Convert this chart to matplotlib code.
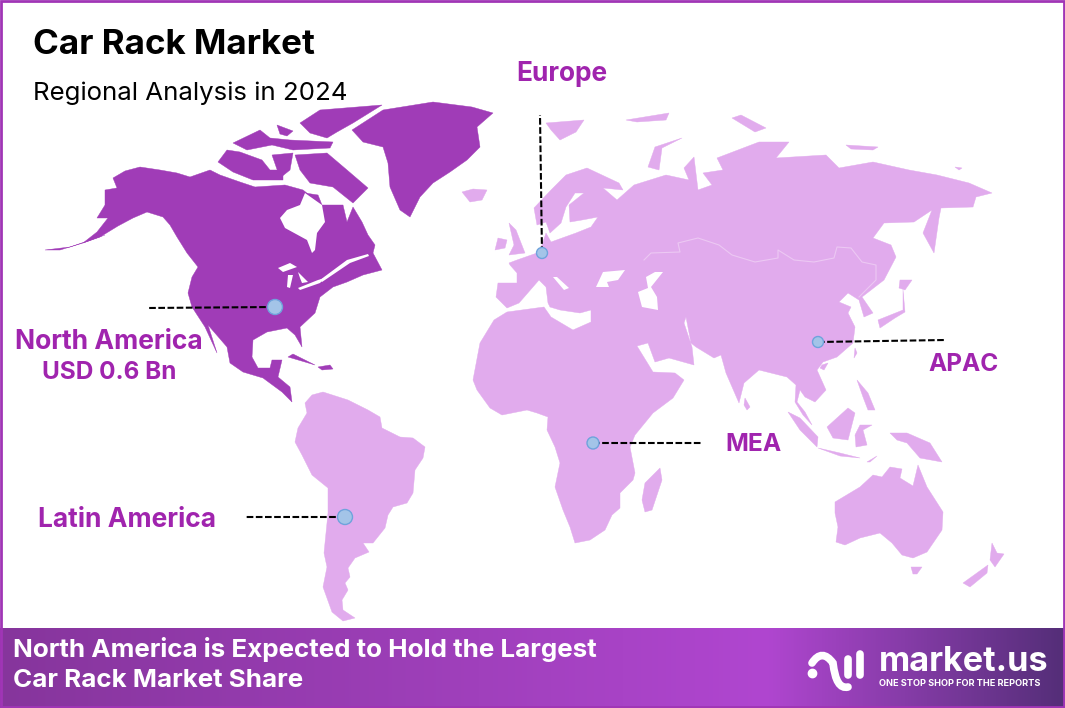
#!/usr/bin/env python3
"""Car Rack Market - regional analysis world map."""

import matplotlib
matplotlib.use('Agg')
import matplotlib.pyplot as plt
import numpy as np
from matplotlib.patches import Ellipse, PathPatch, Rectangle
from matplotlib.path import Path

W, H = 1065, 708
PURPLE = '#a03cb7'
LIGHT = '#e1abed'
LABEL = '#a024ae'
FONT = 'Inter'

# outlines of the land, picture coordinates
north_america = [
    (113, 178), (125, 171), (140, 167), (160, 170), (177, 173), (190, 177), (210, 170), (220, 175),
    (240, 182), (255, 187), (285, 185), (303, 190), (322, 205), (343, 205), (347, 222), (353, 207),
    (362, 222), (368, 235), (375, 245), (373, 253), (382, 270), (363, 275), (347, 282), (333, 287),
    (320, 297), (315, 313), (300, 327), (302, 347), (295, 335), (287, 328), (267, 332), (253, 340),
    (252, 357), (258, 368), (270, 368), (272, 360), (282, 360), (278, 377), (290, 387), (292, 402),
    (282, 392), (263, 378), (243, 372), (230, 363), (227, 347), (208, 325), (217, 353), (205, 327),
    (192, 307), (188, 293), (192, 277), (198, 267), (187, 253), (177, 237), (170, 225), (163, 217),
    (147, 212), (133, 218), (118, 226), (100, 237), (83, 243), (97, 232), (108, 218), (97, 218),
    (105, 205), (105, 190), (117, 188),
]
greenland = [
    (352, 130), (383, 110), (433, 102), (472, 107), (493, 113), (477, 127), (480, 147), (467, 160),
    (450, 172), (433, 183), (420, 197), (410, 217), (400, 210), (390, 187), (388, 163), (383, 147),
    (363, 142),
]
arctic_islands = [
    [(295, 155), (327, 153), (347, 170), (368, 188), (353, 203), (333, 187), (310, 183), (300, 170)],
    [(218, 162), (227, 150), (240, 152), (262, 160), (270, 170), (283, 170), (283, 180), (253, 180),
     (233, 172)],
    [(300, 123), (320, 110), (382, 105), (353, 123), (337, 132), (327, 138), (310, 133)],
    [(233, 143), (260, 130), (270, 138), (290, 140), (333, 142), (330, 148), (293, 150), (272, 145),
     (247, 150)],
    [(277, 125), (293, 131), (287, 136), (280, 134)],
    [(272, 155), (293, 153), (290, 170), (280, 178)],
    [(305, 193), (318, 195), (322, 205), (310, 203)],
    [(105, 235), (83, 243), (60, 250), (45, 250), (70, 247)],
    [(288, 357), (293, 354), (315, 365), (305, 362)],
    [(318, 367), (330, 365), (333, 369), (322, 370)],
]
na_water = [
    [(280, 218), (285, 228), (307, 240), (312, 253), (315, 250), (317, 233), (325, 222), (322, 205),
     (305, 193), (300, 205), (287, 210)],
    [(278, 268), (290, 263), (297, 267), (283, 272)],
    [(288, 275), (293, 275), (290, 288), (287, 287)],
    [(298, 272), (308, 282), (302, 283), (300, 278)],
    [(298, 288), (318, 280), (325, 278), (320, 283), (300, 290)],
    [(320, 280), (347, 260), (368, 254), (369, 256), (350, 263), (322, 282)],
]
eurasia_africa = [
    (509, 263), (517, 260), (537, 253), (542, 245), (546, 233), (551, 242), (576, 233), (591, 227),
    (598, 217), (582, 220), (570, 222), (569, 205), (584, 193), (575, 193), (566, 207), (561, 223),
    (550, 233), (546, 222), (537, 225), (534, 208), (551, 190), (566, 175), (587, 168), (619, 183),
    (623, 190), (603, 188), (617, 200), (634, 185), (666, 175), (689, 180), (684, 168), (694, 157),
    (698, 190), (712, 185), (703, 173), (723, 170), (717, 158), (759, 142), (789, 142), (776, 158),
    (826, 155), (839, 168), (873, 162), (909, 170), (937, 175), (969, 183), (992, 193), (976, 197),
    (973, 207), (941, 208), (939, 218), (934, 253), (923, 233), (932, 210), (914, 222), (884, 223),
    (873, 238), (891, 245), (896, 257), (884, 280), (862, 297), (873, 313), (864, 317), (859, 300),
    (848, 293), (839, 302), (851, 307), (848, 313), (855, 327), (853, 343), (837, 357), (823, 362),
    (817, 370), (826, 390), (815, 402), (805, 397), (800, 390), (797, 402), (805, 412), (812, 425),
    (803, 415), (795, 402), (796, 385), (787, 377), (759, 370), (744, 383), (739, 403), (726, 373),
    (721, 355), (714, 358), (696, 347), (691, 343), (686, 317), (684, 323), (692, 347), (694, 365),
    (669, 358), (655, 362), (648, 343), (637, 346), (653, 372), (675, 373), (684, 380), (673, 398),
    (653, 413), (635, 435), (630, 447), (635, 473), (633, 480), (620, 493), (620, 508), (612, 515),
    (605, 530), (590, 540), (575, 543), (570, 527), (563, 510), (555, 487), (560, 463), (555, 447),
    (547, 430), (548, 417), (537, 413), (527, 410), (502, 415), (490, 408), (477, 390), (473, 380),
    (480, 343), (494, 320), (507, 312), (544, 307), (551, 317), (573, 330), (591, 322), (591, 310),
    (580, 313), (560, 310), (550, 307), (548, 303), (546, 287), (539, 280), (526, 295), (519, 303),
    (507, 308), (496, 297), (498, 283), (517, 283), (517, 273), (510, 265),
]
inland_seas = [
    [(596, 287), (603, 272), (625, 270), (618, 280), (607, 282), (609, 287)],
    [(646, 277), (655, 272), (663, 272), (651, 287), (657, 297), (658, 310), (642, 307), (638, 292),
     (648, 288)],
    [(553, 277), (557, 277), (569, 288), (564, 290)],
]
south_america = [
    (323, 392), (348, 400), (368, 410), (380, 417), (382, 428), (400, 437), (413, 438), (425, 447),
    (423, 458), (415, 470), (413, 493), (407, 503), (393, 507), (388, 515), (385, 528), (373, 543),
    (363, 543), (369, 552), (355, 558), (348, 568), (350, 577), (345, 583), (348, 590), (342, 600),
    (343, 610), (355, 618), (343, 621), (332, 612), (323, 587), (327, 567), (324, 553), (328, 513),
    (328, 488), (312, 475), (302, 455), (295, 442), (298, 428), (307, 413), (305, 403), (312, 395),
]
australia = [
    (835, 502), (860, 487), (873, 475), (882, 477), (890, 467), (902, 469), (900, 478), (913, 486),
    (918, 465), (927, 487), (943, 512), (942, 530), (927, 552), (913, 558), (902, 555), (892, 543),
    (880, 533), (860, 538), (845, 545), (836, 542), (838, 527), (835, 513),
]
small_islands = [
    [(509, 223), (516, 230), (525, 253), (509, 255), (514, 245)],
    [(495, 250), (498, 238), (507, 240), (505, 248)],
    [(462, 192), (473, 189), (487, 190), (482, 200), (470, 202)],
    [(546, 123), (584, 120), (576, 132), (560, 140), (551, 130)],
    [(648, 167), (655, 147), (682, 138), (662, 148), (659, 170)],
    [(626, 120), (669, 113), (666, 120), (637, 122)],
    [(732, 118), (741, 115), (766, 128), (755, 132)],
    [(846, 145), (878, 147), (873, 150), (851, 149)],
    [(955, 167), (962, 168), (959, 170)],
    [(903, 290), (903, 310), (878, 320), (880, 328), (895, 318), (905, 312)],
    [(900, 280), (912, 280), (905, 290), (899, 288)],
    [(855, 348), (857, 353), (854, 358)],
    [(822, 365), (828, 363), (824, 370), (820, 368)],
    [(745, 398), (750, 407), (747, 410), (744, 405)],
    [(857, 380), (868, 393), (875, 410), (868, 410), (863, 397)],
    [(788, 412), (800, 418), (818, 437), (817, 447), (800, 430)],
    [(818, 448), (840, 453), (860, 458), (840, 456)],
    [(827, 427), (848, 408), (855, 413), (848, 440), (833, 438)],
    [(855, 435), (860, 425), (872, 425), (863, 430), (867, 445), (856, 447)],
    [(890, 433), (907, 433), (930, 443), (942, 462), (920, 458), (907, 443), (897, 440)],
    [(867, 462), (877, 456), (870, 462)],
    [(911, 567), (922, 567), (917, 574), (913, 574)],
    [(992, 543), (997, 553), (1004, 554), (995, 567), (990, 560)],
    [(963, 583), (988, 565), (987, 573), (970, 587)],
    [(660, 468), (662, 480), (652, 510), (645, 512), (642, 500), (645, 483)],
]
russia_border = [
    (644, 260), (651, 253), (680, 252), (678, 243), (698, 238), (719, 245), (732, 255), (755, 262),
    (778, 258), (778, 250), (794, 260), (814, 262), (834, 258), (837, 247), (851, 248), (862, 262),
    (876, 265), (876, 280), (859, 297),
]

# callouts: dot, radius, far end of the dashed line
dots = [(275, 307), (542, 253), (818, 342), (593, 443), (345, 517)]
dot_radius = [7.5, 5.5, 5.5, 6, 7.5]
line_ends = [(148, 308), (540, 115), (945, 340), (703, 443), (246, 517)]

title = 'Car Rack Market'
subtitle = 'Regional Analysis in 2024'
footer = ['North America is Expected to Hold the Largest', 'Car Rack Market Share']

fig = plt.figure(figsize=(W / 100, H / 100), dpi=100)
ax = fig.add_axes([0, 0, 1, 1])
ax.set_xlim(0, W)
ax.set_ylim(H, 0)
ax.axis('off')

# land
for shape in [north_america, greenland] + arctic_islands:
    ax.fill(*zip(*shape), color=PURPLE, lw=0.3)
for shape in [eurasia_africa, south_america, australia] + small_islands:
    ax.fill(*zip(*shape), color=LIGHT, lw=0.3)
for shape in na_water + inland_seas:
    ax.fill(*zip(*shape), color='white', lw=0)
ax.plot(*zip(*russia_border), color='#ecc8f3', lw=0.8)

# callouts
for dot, r, end in zip(dots, dot_radius, line_ends):
    ax.plot([dot[0], end[0]], [dot[1], end[1]], color='black', lw=1.5, ls=(0, (3.2, 1.2)), zorder=3)
    ax.add_patch(Ellipse(dot, 2 * r, 2 * r, fc='#a3c4e8', ec='#6fa3dc', lw=1, zorder=4))

ax.text(33, 54, title, fontsize=25.2, fontweight='bold', family=FONT, color='black')
ax.text(33, 100, subtitle, fontsize=18.6, family=FONT, color='black')
ax.text(562, 81, 'Europe', fontsize=18.9, fontweight='bold', family=FONT, color=LABEL, ha='center')
ax.text(109, 349, 'North America', fontsize=19, fontweight='bold', family=FONT, color=LABEL, ha='center')
ax.text(109, 379, 'USD 0.6 Bn', fontsize=17.5, fontweight='bold', family=FONT, color=LABEL, ha='center')
ax.text(38, 527, 'Latin America', fontsize=19, fontweight='bold', family=FONT, color=LABEL)
ax.text(725, 451, 'MEA', fontsize=17.7, fontweight='bold', family=FONT, color=LABEL)
ax.text(928, 371, 'APAC', fontsize=17.6, fontweight='bold', family=FONT, color=LABEL)

# footer band
stops = np.array([0, 0.45, 0.72, 0.85, 1.0])
reds = np.interp(np.linspace(0, 1, 400), stops, [0x86, 0xa0, 0xb0, 0x86, 0x54])
greens = np.interp(np.linspace(0, 1, 400), stops, [0x35, 0x40, 0x46, 0x3c, 0x2e])
blues = np.interp(np.linspace(0, 1, 400), stops, [0x9c, 0xbc, 0xd0, 0xa8, 0x78])
band = np.dstack([reds, greens, blues]) / 255
ax.imshow(band, extent=(0, W, 708, 628), aspect='auto', zorder=1)
ax.set_xlim(0, W)
ax.set_ylim(H, 0)

ax.text(13, 657, footer[0], fontsize=18.7, fontweight='bold', family=FONT, color='white', zorder=5)
ax.text(13, 687, footer[1], fontsize=18.7, fontweight='bold', family=FONT, color='white', zorder=5)

# logo
logo = Path([(812, 663), (822, 648), (833, 663), (836, 690), (848, 687)],
            [Path.MOVETO, Path.CURVE3, Path.CURVE3, Path.CURVE3, Path.CURVE3])
ax.add_patch(PathPatch(logo, fc='none', ec='white', lw=5.5, capstyle='round', zorder=5))
ax.plot([812], [673], 'o', color='white', ms=6, zorder=5)
ax.plot([848, 848], [659, 675], color='white', lw=5.5, solid_capstyle='round', zorder=5)
ax.plot([860, 860], [654, 675], color='white', lw=5.5, solid_capstyle='round', zorder=5)
ax.text(879, 671, 'market.us', fontsize=24.6, fontweight='bold', family=FONT, color='white', zorder=5)
ax.text(879, 686, 'ONE STOP SHOP FOR THE REPORTS', fontsize=6.6, fontweight='bold', family=FONT,
        color='white', zorder=5)

# frame
ax.add_patch(Rectangle((1, 1), W - 2, H - 2, fc='none', ec='#a035b6', lw=2, zorder=6))

fig.savefig('out.png', dpi=100)
